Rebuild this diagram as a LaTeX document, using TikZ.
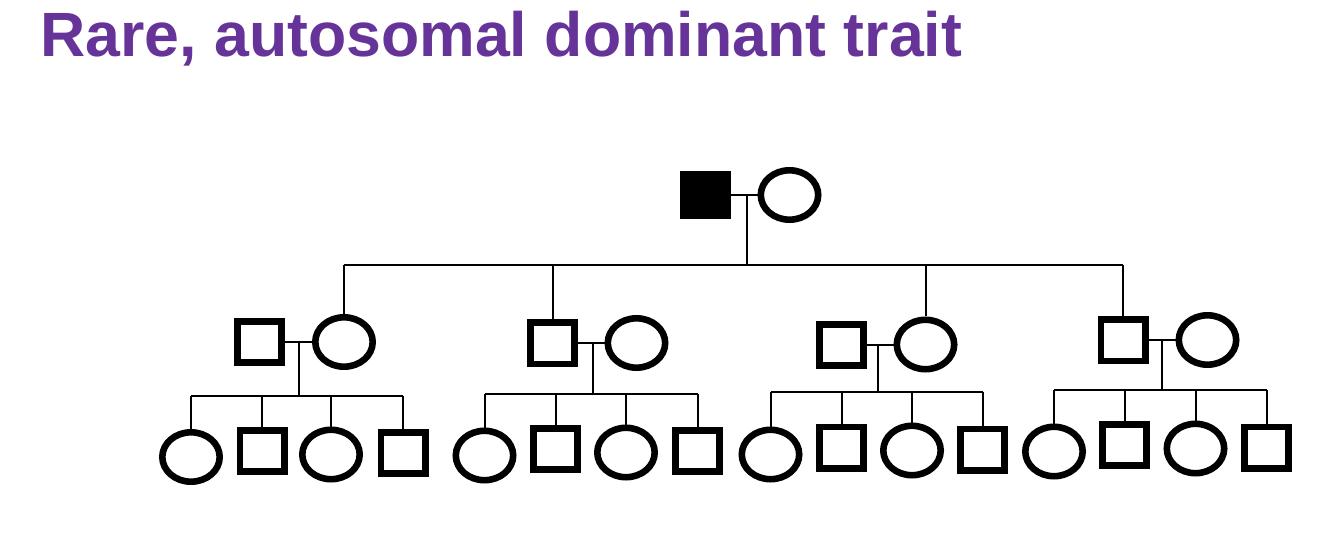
\documentclass[tikz,border=0pt]{standalone}
\usepackage{fontspec}
\setmainfont{Liberation Sans}
\usetikzlibrary{shapes.geometric}
\definecolor{titlepurple}{RGB}{102,51,153}
\begin{document}
\begin{tikzpicture}[x=0.5pt,y=-0.5pt,
  male/.style={draw,line width=3.3pt,rectangle,minimum width=22.2pt,minimum height=20.7pt,inner sep=0pt},
  female/.style={draw,line width=3.3pt,ellipse,minimum width=28.7pt,minimum height=24.7pt,inner sep=0pt},
  affected/.style={fill=black},
  link/.style={line width=1pt}]
\useasboundingbox (0,0) rectangle (1334,534);
\node[anchor=base west, text=titlepurple, font=\fontsize{31.3}{31.3}\selectfont\bfseries, inner sep=0pt] (title) at (40,57) {Rare, autosomal dominant trait};

% generation I
\node[male,affected] (A) at (705,195) {};
\node[female] (B) at (789.5,195) {};
\coordinate (d0) at (747,265);
\draw[link] (A.east) -- (A.east -| B.west);
\draw[link] (d0 |- A.east) -- (d0);

% generation II
\node[male] (H1) at (259.5,342) {};
\node[female] (W1) at (344,342) {};
\node[male] (H2) at (552.5,343.5) {};
\node[female] (W2) at (636.5,343) {};
\node[male] (H3) at (841.5,345) {};
\node[female] (W3) at (925.5,344.5) {};
\node[male] (H4) at (1123,340.5) {};
\node[female] (W4) at (1207.5,340) {};

\draw[link] (W1.north |- d0) -- (H4.north |- d0);
\draw[link] (W1.north |- d0) -- (W1.north);
\draw[link] (H2.north |- d0) -- (H2.north);
\draw[link] (W3.north |- d0) -- (W3.north);
\draw[link] (H4.north |- d0) -- (H4.north);

\foreach \i/\x/\y in {1/299/396, 2/593/394, 3/878/392, 4/1162/390}{
  \coordinate (d\i) at (\x,\y);
  \draw[link] (H\i.east) -- (H\i.east -| W\i.west);
  \draw[link] (d\i |- H\i.east) -- (d\i);
}

% generation III
\node[female] (C11) at (191,457) {};
\node[male]   (C12) at (262,451) {};
\node[female] (C13) at (331,454.5) {};
\node[male]   (C14) at (403,453) {};
\node[female] (C21) at (484.5,455.5) {};
\node[male]   (C22) at (555.5,449) {};
\node[female] (C23) at (626,452.5) {};
\node[male]   (C24) at (697.5,451) {};
\node[female] (C31) at (770.5,454.5) {};
\node[male]   (C32) at (841.5,447.5) {};
\node[female] (C33) at (912,450.5) {};
\node[male]   (C34) at (982.5,449.5) {};
\node[female] (C41) at (1054,451.5) {};
\node[male]   (C42) at (1124.5,445) {};
\node[female] (C43) at (1195.5,448.5) {};
\node[male]   (C44) at (1266.5,447.5) {};

\foreach \i in {1,2,3,4}{
  \draw[link] (C\i1.north |- d\i) -- (C\i4.north |- d\i);
  \foreach \j in {1,2,3,4}{
    \draw[link] (C\i\j.north |- d\i) -- (C\i\j.north);
  }
}
\end{tikzpicture}
\end{document}
